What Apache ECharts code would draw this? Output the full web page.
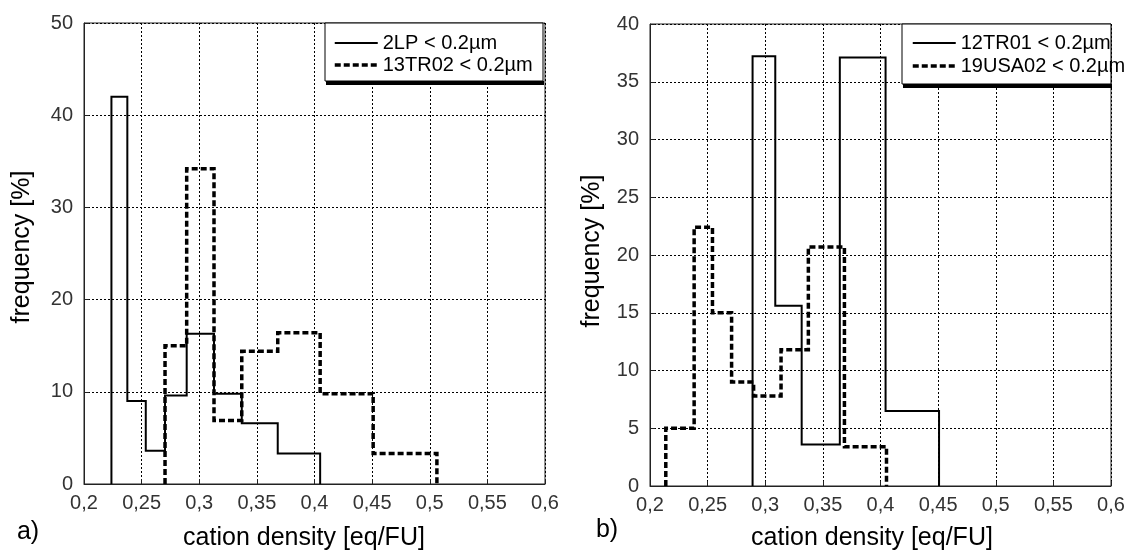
<!DOCTYPE html>
<html>
<head>
<meta charset="utf-8">
<script src="https://cdn.jsdelivr.net/npm/echarts@6/dist/echarts.min.js"></script>
<style>
html,body{margin:0;padding:0;background:#fff;}
#chart{width:1135px;height:556px;}
</style>
</head>
<body>
<div id="chart"></div>
<script>
// ---- data ----
const xTickLabels = ['0,2','0,25','0,3','0,35','0,4','0,45','0,5','0,55','0,6'];
const yTickLabelsA = ['0','10','20','30','40','50'];
const yTickLabelsB = ['0','5','10','15','20','25','30','35','40'];

// panel a)
const nameA1 = '2LP < 0.2µm';
const edgesA1 = [0.2238, 0.2376, 0.2536, 0.2703, 0.2891, 0.3128, 0.3369, 0.3681, 0.4049];
const freqA1  = [42.0, 9.0, 3.6, 9.6, 16.3, 9.8, 6.6, 3.3];
const nameA2 = '13TR02 < 0.2µm';
const edgesA2 = [0.2703, 0.2891, 0.3128, 0.3369, 0.3681, 0.4049, 0.4509, 0.5062];
const freqA2  = [15.0, 34.2, 6.9, 14.4, 16.4, 9.8, 3.3];

// panel b)
const nameB1 = '12TR01 < 0.2µm';
const edgesB1 = [0.2890, 0.3087, 0.3316, 0.3647, 0.4044, 0.4508];
const freqB1  = [37.2, 15.6, 3.6, 37.1, 6.5];
const nameB2 = '19USA02 < 0.2µm';
const edgesB2 = [0.2137, 0.2383, 0.2542, 0.2708, 0.2899, 0.3137, 0.3374, 0.3687, 0.4052];
const freqB2  = [5.0, 22.4, 15.0, 9.0, 7.8, 11.8, 20.7, 3.4];

// ---- helpers ----
function outline(edges, h) {
  const pts = [[edges[0], 0]];
  for (let i = 0; i < h.length; i++) {
    pts.push([edges[i], h[i]]);
    pts.push([edges[i + 1], h[i]]);
  }
  pts.push([edges[edges.length - 1], 0]);
  return pts;
}
const FONT = '"Liberation Sans", Arial, sans-serif';
const SOLID = {color: '#000', width: 2, join: 'miter', cap: 'butt'};
const DASHED = {color: '#000', width: 3.5, type: [6, 3], join: 'miter', cap: 'butt'};

function xAxis(gi) {
  return {
    type: 'value', gridIndex: gi, min: 0.2, max: 0.6, interval: 0.05,
    axisLine: {show: true, onZero: false, lineStyle: {color: '#222', width: 1}},
    axisTick: {show: true, inside: true, length: 5, lineStyle: {color: '#222'}},
    axisLabel: {
      margin: 9, color: '#333', fontSize: 20, fontFamily: FONT,
      formatter: v => xTickLabels[Math.round((v - 0.2) / 0.05)]
    },
    splitLine: {show: true, lineStyle: {color: '#000', width: 1, type: [2, 2]}}
  };
}
function yAxis(gi, max, interval, labels) {
  return {
    type: 'value', gridIndex: gi, min: 0, max: max, interval: interval,
    axisLine: {show: true, lineStyle: {color: '#222', width: 1}},
    axisTick: {show: true, inside: true, length: 5, lineStyle: {color: '#222'}},
    axisLabel: {
      margin: 11, color: '#333', fontSize: 20, fontFamily: FONT,
      formatter: v => labels[Math.round(v / interval)]
    },
    splitLine: {show: true, lineStyle: {color: '#000', width: 1, type: [2, 2]}}
  };
}
function series(name, xi, data, ls) {
  return {type: 'line', name: name, xAxisIndex: xi, yAxisIndex: xi, data: data,
    symbol: 'none', z: 3, color: '#000', itemStyle: {color: '#000'},
    lineStyle: Object.assign({}, ls)};
}
function legendBox(x, y, w, h) {
  return [
    {type: 'rect', z: 5, shape: {x: x + 1, y: y + h, width: w, height: 4}, style: {fill: '#000'}},
    {type: 'rect', z: 5, shape: {x: x, y: y, width: w, height: h}, style: {fill: '#fff', stroke: '#000', lineWidth: 1}}
  ];
}
function txt(x, y, s, size, rot) {
  return {type: 'text', z: 10, x: x, y: y, rotation: rot || 0,
    style: {text: s, font: size + 'px ' + FONT, fill: '#000',
      align: 'center', verticalAlign: 'middle', textAlign: 'center', textVerticalAlign: 'middle'}};
}
function legend(n1, n2, left, top, gap) {
  return {
    data: [
      {name: n1, lineStyle: {color: '#000', width: 2, type: 'solid'}},
      {name: n2, lineStyle: {color: '#000', width: 3.5, type: [6, 3]}}
    ],
    orient: 'vertical', left: left, top: top, itemWidth: 43, itemHeight: 14,
    itemGap: gap, padding: 0, selectedMode: false, z: 20,
    itemStyle: {color: 'rgba(0,0,0,0)', borderWidth: 0, opacity: 0},
    textStyle: {fontSize: 20, fontFamily: FONT, color: '#000'}};
}

const chart = echarts.init(document.getElementById('chart'), null, {renderer: 'canvas'});
chart.setOption({
  animation: false,
  backgroundColor: '#fff',
  color: ['#000'],
  grid: [
    {left: 84, right: 590, top: 23, bottom: 72, show: true, borderColor: '#222', borderWidth: 1, backgroundColor: 'transparent'},
    {left: 650, right: 24, top: 24, bottom: 70, show: true, borderColor: '#222', borderWidth: 1, backgroundColor: 'transparent'}
  ],
  xAxis: [xAxis(0), xAxis(1)],
  yAxis: [yAxis(0, 50, 10, yTickLabelsA), yAxis(1, 40, 5, yTickLabelsB)],
  legend: [legend(nameA1, nameA2, 333, 33, 2), legend(nameB1, nameB2, 911, 33, 3)],
  graphic: [
    ...legendBox(325, 23, 218, 58),
    ...legendBox(902, 24, 209, 60),
    txt(22, 247, 'frequency [%]', 25, Math.PI / 2),
    txt(592, 251, 'frequency [%]', 25, Math.PI / 2),
    txt(304, 538, 'cation density [eq/FU]', 25),
    txt(872, 538, 'cation density [eq/FU]', 25),
    txt(28, 532, 'a)', 25),
    txt(607, 530, 'b)', 25)
  ],
  series: [
    series(nameA1, 0, outline(edgesA1, freqA1), SOLID),
    series(nameA2, 0, outline(edgesA2, freqA2), DASHED),
    series(nameB1, 1, outline(edgesB1, freqB1), SOLID),
    series(nameB2, 1, outline(edgesB2, freqB2), DASHED)
  ]
});
</script>
</body>
</html>
